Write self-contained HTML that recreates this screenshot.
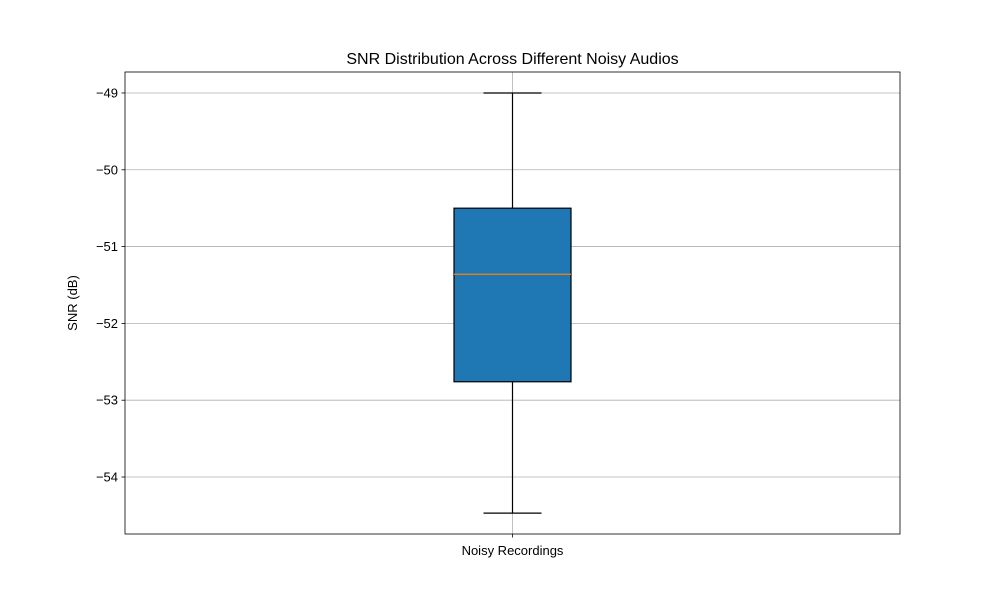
<!DOCTYPE html>
<html><head><meta charset="utf-8"><style>body{margin:0;background:#fff}svg{display:block;font-family:"Liberation Sans","DejaVu Sans",sans-serif}</style></head>
<body>
<svg id="c" width="1000" height="600"></svg>
<script>
const categories = ["Noisy Recordings"];
const whiskerLow = [-54.47];
const q1 = [-52.76];
const median = [-51.36];
const q3 = [-50.50];
const whiskerHigh = [-49.0];
const yTicks = [-49, -50, -51, -52, -53, -54];
const yTickLabels = ["−49", "−50", "−51", "−52", "−53", "−54"];

const L=125,R=900,T=72,B=534, yMin=-54.742, yMax=-48.727;
const y=v=>T+(yMax-v)/(yMax-yMin)*(B-T);
const x=i=>L+(R-L)*(i+0.5)/categories.length;
const svg=document.getElementById('c');
const NS='http://www.w3.org/2000/svg';
function mk(tag,at,parent){const e=document.createElementNS(NS,tag);for(const k in at)e.setAttribute(k,at[k]);(parent||svg).appendChild(e);return e;}

let t=mk('text',{x:512.5,y:64,'text-anchor':'middle','font-size':16,fill:'#000'});t.textContent='SNR Distribution Across Different Noisy Audios';



yTicks.forEach((v,i)=>{
  const g=mk('line',{x1:L,x2:R,y1:y(v),y2:y(v),stroke:'#b0b0b0','stroke-width':0.8});
  
  
  mk('line',{x1:L-3.5,x2:L,y1:y(v),y2:y(v),stroke:'#000','stroke-width':0.8});
  const tl=mk('text',{x:L-7,y:y(v)+4.5,'text-anchor':'end','font-size':13,fill:'#000'});tl.textContent=yTickLabels[i];
  
  
});
categories.forEach((c,i)=>{
  const cx=x(i);
  const vg=mk('line',{x1:cx,x2:cx,y1:T,y2:B,stroke:'#b0b0b0','stroke-width':0.8});
  
  
  mk('line',{x1:cx,x2:cx,y1:B,y2:B+3.5,stroke:'#000','stroke-width':0.8});
  const xl=mk('text',{x:cx,y:555,'text-anchor':'middle','font-size':13,fill:'#000'});xl.textContent=c;
  
  
  const hw=58.5, cw=29;
  const w1=mk('line',{x1:cx,x2:cx,y1:y(q3[i]),y2:y(whiskerHigh[i]),stroke:'#000','stroke-width':1.2});
  
  
  const w2=mk('line',{x1:cx,x2:cx,y1:y(q1[i]),y2:y(whiskerLow[i]),stroke:'#000','stroke-width':1.2});
  
  
  const c1=mk('line',{x1:cx-cw,x2:cx+cw,y1:y(whiskerHigh[i]),y2:y(whiskerHigh[i]),stroke:'#000','stroke-width':1.2});
  
  
  const c2=mk('line',{x1:cx-cw,x2:cx+cw,y1:y(whiskerLow[i]),y2:y(whiskerLow[i]),stroke:'#000','stroke-width':1.2});
  
  
  const bx=mk('rect',{x:cx-hw,y:y(q3[i]),width:2*hw,height:y(q1[i])-y(q3[i]),fill:'#1f77b4',stroke:'#000','stroke-width':1.2});
  
  
  const md=mk('line',{x1:cx-hw,x2:cx+hw,y1:y(median[i]),y2:y(median[i]),stroke:'#ff7f0e','stroke-width':1.3});
  
  
});
const fr=mk('rect',{x:L,y:T,width:R-L,height:B-T,fill:'none',stroke:'#000','stroke-width':0.8});


const yt=mk('text',{x:77,y:303,'text-anchor':'middle','font-size':13,fill:'#000',transform:'rotate(-90 77 303)'});yt.textContent='SNR (dB)';


</script>
</body></html>
